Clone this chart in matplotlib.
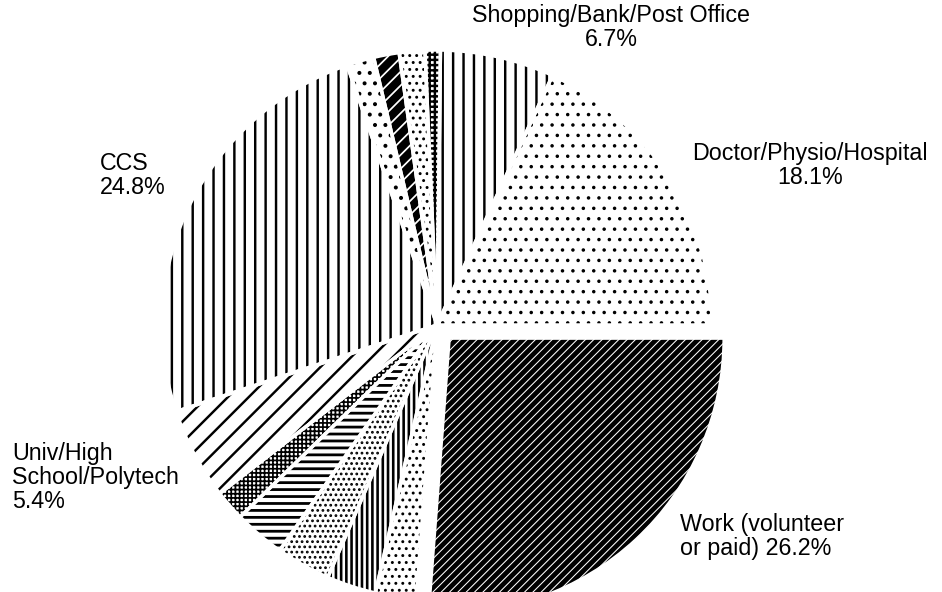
import numpy as np
import matplotlib
matplotlib.use('Agg')
from matplotlib import pyplot as plt

DPI = 125
plt.rcParams['font.family'] = ['Liberation Sans', 'DejaVu Sans']
plt.rcParams['hatch.linewidth'] = 1.4

# slices, counterclockwise from 3 o'clock
names = ['Doctor/Physio/Hospital', 'Shopping/Bank/Post Office',
         'other a', 'other b', 'other c', 'other d',
         'CCS', 'Univ/High School/Polytech',
         'other e', 'other f', 'other g', 'other h', 'other i',
         'Work (volunteer or paid)']
shares = [18.1, 6.7, 0.9, 1.5, 1.5, 1.6, 24.8, 5.4, 1.8, 3.0, 3.2, 2.9, 2.4, 26.2]

# fill patterns, one per slice
hatches = ['..', '||', '++++', '...', '///', '..', '||', '//',
           '+++++', '---', '....', '||||', '...', '/////']
faces = ['white', 'white', 'white', 'white', 'black', 'white', 'white', 'white',
         'white', 'white', 'white', 'white', 'white', 'black']
inks = ['black', 'black', 'black', 'black', 'white', 'black', 'black', 'black',
        'black', 'black', 'black', 'black', 'black', 'white']
ink_lw = [0.8, 1.4, 1.4, 0.9, 1.0, 1.1, 1.4, 1.4, 1.0, 1.6, 1.0, 1.5, 0.9, 0.6]
explode = [0] * 13 + [0.065]

fig = plt.figure(figsize=(942 / DPI, 592 / DPI), dpi=DPI)
ax = fig.add_axes([0, 0, 1, 1])

wedges, _ = ax.pie(shares, startangle=0, counterclock=True, explode=explode,
                   colors=faces, wedgeprops=dict(linewidth=0))
for w, h, ec, lw in zip(wedges, hatches, inks, ink_lw):
    w.set_hatch(h)
    w.set_edgecolor(ec)
    w.set_linewidth(0)
    if hasattr(w, 'set_hatch_linewidth'):
        w.set_hatch_linewidth(lw)

# white gaps between the slices
ax.pie(shares, startangle=0, counterclock=True, explode=explode,
       wedgeprops=dict(fill=False, edgecolor='white', linewidth=2.0))

# centre of pie at (437, 325) px, radius 275 px
r = 275.0
ax.set_xlim(-437 / r, (942 - 437) / r)
ax.set_ylim(-(592 - 325) / r, 325 / r)
ax.set_aspect('auto')
ax.axis('off')

fs = 13.4
def label(px, py, s, ha):
    fig.text(px / 942, 1 - py / 592, s, ha=ha, va='top', fontsize=fs,
             multialignment=ha, linespacing=1.05)

label(611, 4, 'Shopping/Bank/Post Office\n6.7%', 'center')
label(810, 142, 'Doctor/Physio/Hospital\n18.1%', 'center')
label(100, 152, 'CCS\n24.8%', 'left')
label(12, 442, 'Univ/High\nSchool/Polytech\n5.4%', 'left')
label(680, 513, 'Work (volunteer\nor paid) 26.2%', 'left')

fig.savefig('out.png', dpi=DPI)
